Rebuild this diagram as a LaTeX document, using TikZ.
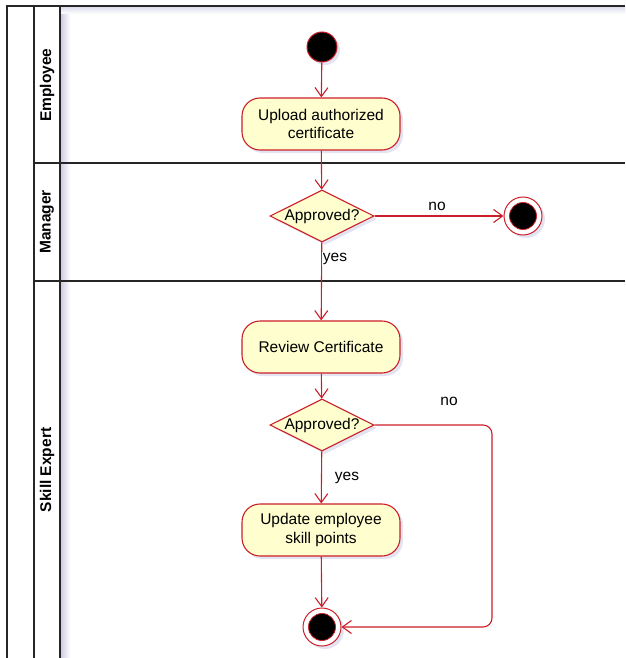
\documentclass[tikz,border=0pt]{standalone}
\usepackage{fontspec}
\setmainfont{Liberation Sans}
\usetikzlibrary{arrows.meta, shapes.geometric, shadows}
\definecolor{umlred}{RGB}{204, 30, 40}
\definecolor{umlfill}{RGB}{254, 254, 206}
\definecolor{umlshade}{RGB}{200, 200, 228}

\begin{document}
\begin{tikzpicture}[x=1pt, y=-1pt,
  font=\fontsize{15.5}{18.5}\selectfont,
  lane/.style={line width=1.4pt, draw=black!85},
  act/.style={rectangle, rounded corners=18pt, draw=umlred, fill=umlfill, line width=1.1pt,
    minimum width=158pt, minimum height=52pt, align=center,
    drop shadow={shadow xshift=3pt, shadow yshift=-3pt, fill=umlshade, opacity=0.5}},
  decide/.style={diamond, draw=umlred, fill=umlfill, line width=1.1pt, inner sep=0pt,
    aspect=2, minimum width=104pt, minimum height=52pt,
    drop shadow={shadow xshift=3pt, shadow yshift=-3pt, fill=umlshade, opacity=0.5}},
  startnode/.style={circle, fill=black, draw=umlred, line width=1pt, minimum size=30pt, inner sep=0pt,
    drop shadow={shadow xshift=3pt, shadow yshift=-3pt, fill=umlshade, opacity=0.5}},
  endnode/.style={circle, fill=white, draw=umlred, line width=1pt, minimum size=38pt, inner sep=0pt,
    drop shadow={shadow xshift=3pt, shadow yshift=-3pt, fill=umlshade, opacity=0.5},
    path picture={\filldraw[fill=black, draw=umlred, line width=0.8pt]
      (path picture bounding box.center) circle (13.5pt);}},
  flow/.style={draw=umlred, line width=1.1pt, -{Straight Barb[length=9pt, width=13pt]}},
  guard/.style={inner sep=1pt, fill=white},
  lanelabel/.style={rotate=90, font=\fontsize{15.5}{18.5}\selectfont\bfseries}
]
  \useasboundingbox (0,0) rectangle (625,658);

%swimlanes:
  \shade[left color=umlshade, right color=white] (60,6) rectangle (70,658);
  \shade[top color=umlshade!70, bottom color=white] (60,6) rectangle (625,14);
  \draw[lane] (7,658) -- (7,6) -- (625,6);
  \draw[lane] (34,6) -- (34,658);
  \draw[lane] (60,6) -- (60,658);
  \draw[lane] (34,163) -- (625,163);
  \draw[lane] (34,281) -- (625,281);
  \node[lanelabel] (empl) at (47,85) {Employee};
  \node[lanelabel] (mgr) at (47,222) {Manager};
  \node[lanelabel] (expert) at (47,470) {Skill Expert};
%%%%%%

  \node[startnode] (start) at (322,47) {};
  \node[act] (upload) at (321,124) {Upload authorized\\certificate};
  \node[decide] (mcheck) at (322,216) {Approved?};
  \node[endnode] (mend) at (523,216) {};
  \node[act] (review) at (321,347) {Review Certificate};
  \node[decide] (echeck) at (322,425) {Approved?};
  \node[act] (update) at (321,530) {Update employee\\skill points};
  \node[endnode] (eend) at (322,627) {};
  \coordinate (bend) at (492,425);

  \draw[flow] (start) -- (upload);
  \draw[flow] (upload) -- (mcheck);
  \draw[flow] (mcheck) -- (mend);
  \draw[flow] (mcheck) -- (review);
  \draw[flow] (review) -- (echeck);
  \draw[flow] (echeck) -- (update);
  \draw[flow] (update) -- (eend);
  \draw[flow, rounded corners=9pt] (echeck.east) -- (bend) |- (eend.east);

  \node[guard] (no1) at (437,206) {no};
  \node[guard] (yes1) at (335,259) {yes};
  \node[guard] (no2) at (449,401) {no};
  \node[guard] (yes2) at (347,478) {yes};
\end{tikzpicture}
\end{document}
